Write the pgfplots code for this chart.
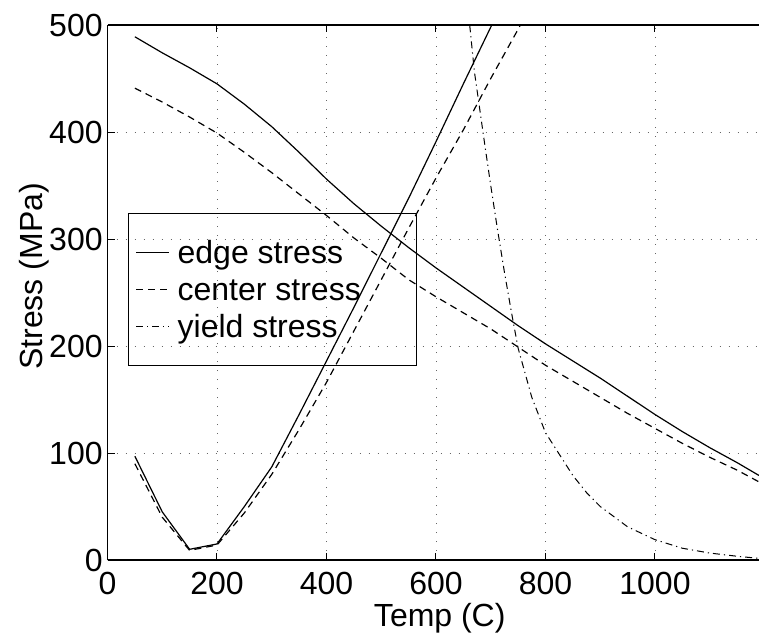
\documentclass[border=0pt]{standalone}
\usepackage{fontspec}
\setmainfont{Liberation Sans}
\usepackage{pgfplots}
\usepackage{pgfplotstable}
\pgfplotsset{compat=1.18}

\pgfplotstableread{
x y
50 97
100 45
150 10
200 15
250 50
300 87
350 136
400 186
450 236
500 287
550 338
600 391
650 445
700 498
750 552
}\edgeV
\pgfplotstableread{
x y
50 90
100 40
150 9
200 14
250 44
300 80
350 122
400 166
450 214
500 262
550 310
600 357
650 402
700 450
750 496
800 545
}\centerV
\pgfplotstableread{
x y
650 560
660 508
670 457
680 421
690 385
700 350
712 310
725 269
738 231
750 198
775 152
800 119
825 99
850 79
875 63
900 50
950 31
1000 19
1050 11
1100 6.5
1150 3.5
1190 1.5
}\yield
\pgfplotstableread{
x y
50 489
100 474
150 460
200 445
250 426
300 405
350 381
400 356
450 333
500 312
550 292
600 273
650 255
700 237
750 219
800 202
850 186
900 170
950 153
1000 136
1050 120
1100 105
1150 91
1190 79
}\edgeD
\pgfplotstableread{
x y
50 441
100 428
150 414
200 399
250 381
300 362
350 342
400 322
450 301
500 282
550 262
600 246
650 231
700 216
750 199
800 182
850 167
900 152
950 137
1000 123
1050 109
1100 96
1150 84
1190 73
}\centerD

\begin{document}
\begin{tikzpicture}
\useasboundingbox (-53.75pt,-38.5pt) rectangle (325.75pt,280pt);
\begin{axis}[
  at={(0,0)}, anchor=south west, scale only axis,
  width=325.75pt, height=267.5pt,
  xmin=0, xmax=1190, ymin=0, ymax=500,
  xtick={0,200,...,1000}, ytick={0,100,...,500},
  axis x line=box, axis y line=left,
  axis line style={-, line width=0.6pt, black},
  tick align=inside, major tick length=3.5pt,
  every tick/.style={black, line width=0.5pt},
  grid=major,
  major grid style={black!60, line width=0.45pt, dash pattern=on 0.5pt off 4pt},
  /pgf/number format/assume math mode=true,
  /pgf/number format/1000 sep={},
  tick label style={font=\fontsize{16}{19}\selectfont},
  yticklabel style={inner sep=0pt, xshift=-2.25pt},
  xticklabel style={inner sep=0pt, yshift=-6pt},
  xlabel={Temp (C)}, ylabel={Stress (MPa)},
  label style={font=\fontsize{16}{19}\selectfont},
  xlabel style={at={(axis description cs:0.51,-0.0804)}, anchor=north, inner sep=0pt},
  ylabel style={at={(axis description cs:-0.0883,0.53)}, anchor=south, inner sep=0pt, rotate=0},
  legend style={at={(axis description cs:0.032,0.649)}, anchor=north west,
    draw=black, line width=0.5pt, fill=none,
    inner xsep=3.3pt, inner ysep=11pt, row sep=1.5pt,
    font=\fontsize{16}{19}\selectfont,
    nodes={inner sep=0pt, text height=14pt, text depth=3pt}},
  legend cell align=left,
  legend image code/.code={\draw[#1] (0pt,0pt) -- (16.5pt,0pt); \path (20.5pt,0pt);},
]
\addplot[black, line width=0.6pt] table[x=x,y=y] {\edgeV};
\addlegendentry{\makebox[116pt][l]{edge stress}}
\addplot[black, line width=0.6pt, dash pattern=on 3.5pt off 2.5pt] table[x=x,y=y] {\centerV};
\addlegendentry{\makebox[116pt][l]{center stress}}
\addplot[black, line width=0.5pt, dash pattern=on 3.5pt off 2pt on 0.6pt off 2pt] table[x=x,y=y] {\yield};
\addlegendentry{\makebox[116pt][l]{yield stress}}
\addplot[black, line width=0.6pt, forget plot] table[x=x,y=y] {\edgeD};
\addplot[black, line width=0.6pt, dash pattern=on 3.5pt off 2.5pt, forget plot] table[x=x,y=y] {\centerD};
\end{axis}
\end{tikzpicture}
\end{document}
